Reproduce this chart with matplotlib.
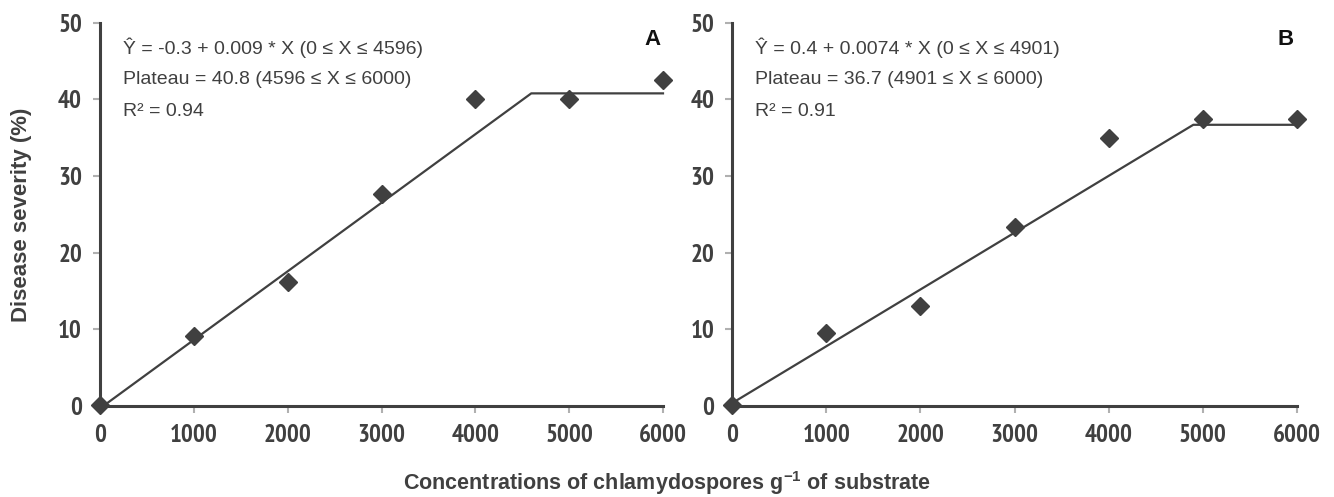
import matplotlib
matplotlib.use("Agg")
import matplotlib.pyplot as plt

plt.rcParams["mathtext.default"] = "regular"

# concentrations of chlamydospores per g of substrate
conc = [0, 1000, 2000, 3000, 4000, 5000, 6000]

# disease severity (%)
sev_a = [0.2, 9.2, 16.2, 27.7, 40.0, 40.0, 42.5]
sev_b = [0.2, 9.5, 13.0, 23.4, 35.0, 37.5, 37.4]

# linear-plateau fits
fit_a = {"b0": -0.3, "b1": 0.009, "xp": 4596, "plateau": 40.8}
fit_b = {"b0": 0.4, "b1": 0.0074, "xp": 4901, "plateau": 36.7}

eq_a = ["Ŷ = -0.3 + 0.009 * X (0 ≤ X ≤ 4596)",
        "Plateau = 40.8 (4596 ≤ X ≤ 6000)",
        "R² = 0.94"]
eq_b = ["Ŷ = 0.4 + 0.0074 * X (0 ≤ X ≤ 4901)",
        "Plateau = 36.7 (4901 ≤ X ≤ 6000)",
        "R² = 0.91"]

dark = "#404040"
narrow_bold = ["PT Sans Narrow", "Liberation Sans Narrow", "Liberation Sans", "DejaVu Sans"]
sans = ["Liberation Sans", "DejaVu Sans"]

fig = plt.figure(figsize=(13.34, 4.97), dpi=100)
ax_a = fig.add_axes([0.075, 0.183, 0.422, 0.771])
ax_b = fig.add_axes([0.549, 0.183, 0.423, 0.771])


def draw(ax, sev, fit, eq, tag):
    # fitted line: linear part up to the join, then flat plateau
    xs = [0, fit["xp"], 6000]
    ys = [fit["b0"], fit["plateau"], fit["plateau"]]
    ax.plot(xs, ys, color=dark, lw=1.6, zorder=2, clip_on=False)
    ax.plot(conc, sev, "D", color=dark, ms=9, zorder=3, clip_on=False)
    ax.set_xlim(0, 6000)
    ax.set_ylim(0, 50)
    ax.set_xticks(conc)
    ax.set_yticks([0, 10, 20, 30, 40, 50])
    for s in ["top", "right"]:
        ax.spines[s].set_visible(False)
    for s in ["left", "bottom"]:
        ax.spines[s].set_color(dark)
        ax.spines[s].set_linewidth(2.2)
    ax.tick_params(axis="both", direction="out", length=5, width=1.5,
                   color="#b0b0b0", labelcolor=dark, pad=8)
    for lab in ax.get_xticklabels() + ax.get_yticklabels():
        lab.set_family(narrow_bold)
        lab.set_fontweight("bold")
        lab.set_fontsize(18)
    for i, line in enumerate(eq):
        ax.text(0.04, 0.935 - i * 0.083, line, transform=ax.transAxes,
                family=sans, fontsize=14, color=dark, va="center")
    ax.text(0.995, 0.985, tag, transform=ax.transAxes, family=sans,
            fontsize=16, fontweight="bold", color="#111111",
            ha="right", va="top")


draw(ax_a, sev_a, fit_a, eq_a, "A")
draw(ax_b, sev_b, fit_b, eq_b, "B")

ax_a.set_ylabel("Disease severity (%)", family=sans, fontsize=16,
                fontweight="bold", color=dark, labelpad=19)
fig.text(0.5, 0.028, "Concentrations of chlamydospores g$^{-1}$ of substrate",
         family=sans, fontsize=15.5, fontweight="bold", color=dark,
         ha="center", va="center")

fig.savefig("out.png", dpi=100)
